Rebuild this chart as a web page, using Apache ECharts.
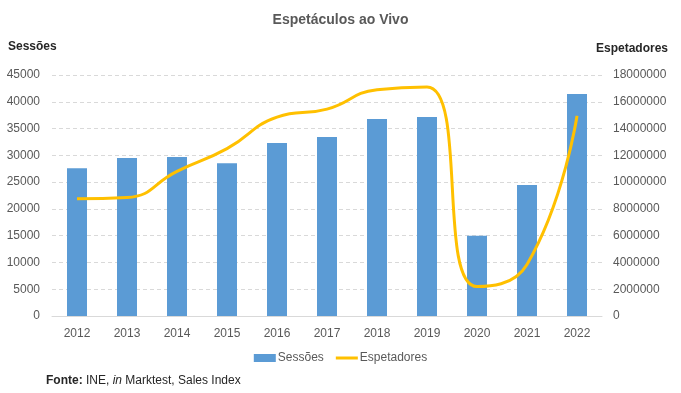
<!DOCTYPE html>
<html><head><meta charset="utf-8">
<script src="https://cdn.jsdelivr.net/npm/echarts@6/dist/echarts.min.js"></script>
<style>html,body{margin:0;padding:0;background:#fff}#c{width:681px;height:393px}</style>
</head><body><div id="c"></div>
<script>
const years = ['2012','2013','2014','2015','2016','2017','2018','2019','2020','2021','2022'];
const sessoes = [27600, 29500, 29700, 28500, 32300, 33400, 36800, 37150, 15000, 24450, 41450];
const espetadores = [8750000, 8850000, 10800000, 12500000, 14850000, 15450000, 16900000, 17100000, 2200000, 3850000, 14950000];
const leftTicks = {min: 0, max: 45000, interval: 5000};
const rightTicks = {min: 0, max: 18000000, interval: 2000000};

const font = 'Liberation Sans';
const plain = v => String(v);
const chart = echarts.init(document.getElementById('c'));
chart.setOption({
  animation: false,
  textStyle: {fontFamily: font},
  title: {text: 'Espetáculos ao Vivo', left: 'center', top: 8,
    textStyle: {fontSize: 14, fontWeight: 'bold', color: '#595959', fontFamily: font}},
  grid: {left: 52, right: 79, top: 75, bottom: 77},
  legend: {top: 347, left: 'center', itemGap: 12, itemWidth: 22, itemHeight: 8,
    textStyle: {fontSize: 12, color: '#595959', fontFamily: font, padding: [0,0,0,-3]},
    data: [{name: 'Sessões', icon: 'rect'},
           {name: 'Espetadores', icon: 'path://M0,0 L22,0 L22,3 L0,3 Z', itemStyle: {color: '#ffc000'}}]},
  xAxis: {type: 'category', data: years,
    axisLine: {lineStyle: {color: '#d9d9d9'}}, axisTick: {show: false},
    axisLabel: {color: '#595959', fontSize: 12, margin: 12}},
  yAxis: [
    {type: 'value', name: 'Sessões', min: leftTicks.min, max: leftTicks.max, interval: leftTicks.interval,
     nameLocation: 'end', nameGap: 22,
     nameTextStyle: {fontSize: 12, color: '#262626', fontWeight: 'bold', align: 'left', padding: [0,0,0,-44]},
     axisLine: {show: false}, axisTick: {show: false},
     axisLabel: {color: '#595959', fontSize: 12, margin: 12, formatter: plain},
     splitLine: {lineStyle: {color: '#d9d9d9', type: [4, 3]}}},
    {type: 'value', name: 'Espetadores', min: rightTicks.min, max: rightTicks.max, interval: rightTicks.interval,
     nameLocation: 'end', nameGap: 20,
     nameTextStyle: {fontSize: 12, color: '#262626', fontWeight: 'bold', align: 'right', padding: [0,-66,0,0]},
     axisLine: {show: false}, axisTick: {show: false},
     axisLabel: {color: '#595959', fontSize: 12, margin: 11, formatter: plain},
     splitLine: {show: false}}
  ],
  series: [
    {name: 'Sessões', type: 'bar', data: sessoes, barWidth: 20, itemStyle: {color: '#5b9bd5'}},
    {name: 'Espetadores', type: 'line', yAxisIndex: 1, data: espetadores, smooth: 0.5,
     symbol: 'none', lineStyle: {color: '#ffc000', width: 3}, itemStyle: {color: '#ffc000'}}
  ],
  graphic: [{type: 'text', left: 46, top: 375,
    style: {text: '{b|Fonte:} INE, {i|in} Marktest, Sales Index', fontSize: 12, fill: '#262626', fontFamily: font,
      rich: {b: {fontWeight: 'bold', fontSize: 12, fill: '#262626', fontFamily: font},
             i: {fontStyle: 'italic', fontSize: 12, fill: '#262626', fontFamily: font}}}}]
});
</script></body></html>
